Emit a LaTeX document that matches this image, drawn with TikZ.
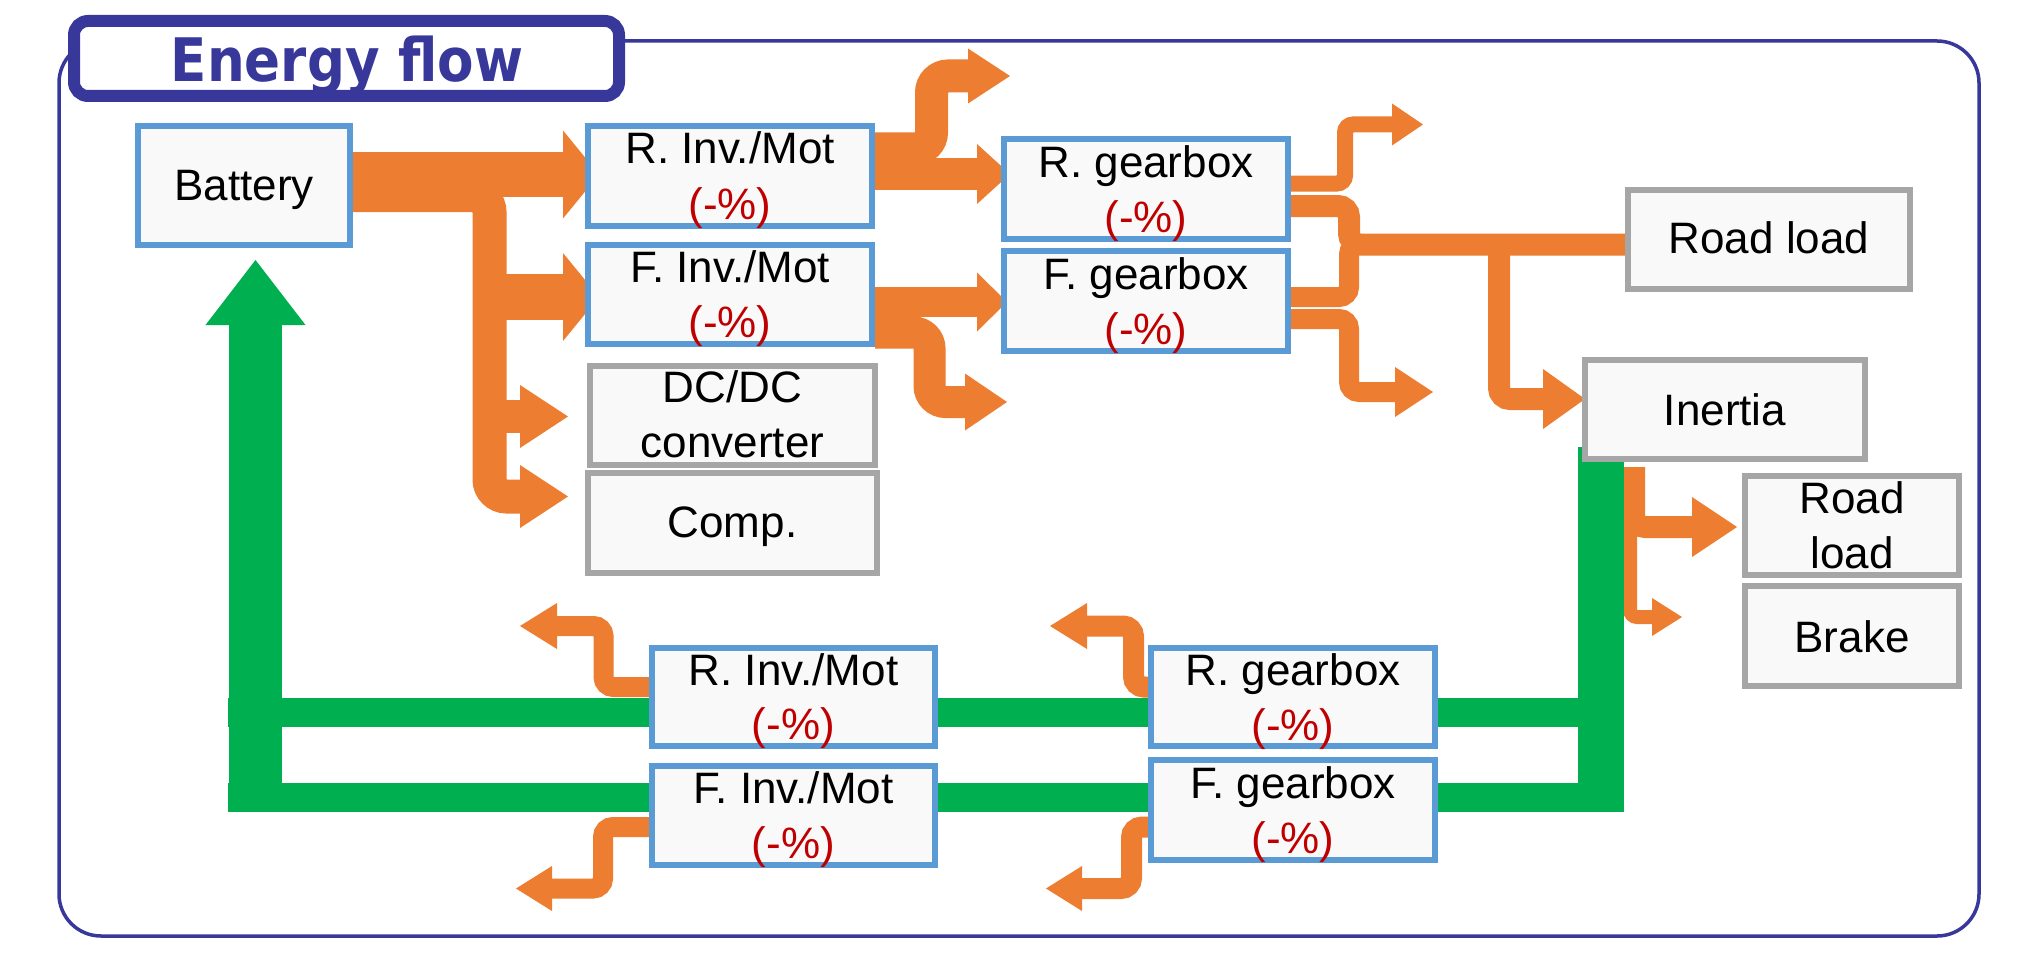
\documentclass[tikz,border=0pt]{standalone}
\usepackage{fontspec}
\setmainfont{Liberation Sans}
\newfontfamily\titlefont{DejaVu Sans}
\usetikzlibrary{arrows.meta,calc}
\pgfdeclarelayer{back}
\pgfdeclarelayer{flows}
\pgfsetlayers{back,flows,main}
\definecolor{orng}{HTML}{ED7D31}
\definecolor{grn}{HTML}{00B050}
\definecolor{bbord}{HTML}{5B9BD5}
\definecolor{gbord}{HTML}{A6A6A6}
\definecolor{boxfill}{HTML}{F9F9F9}
\definecolor{navy}{HTML}{38389A}
\definecolor{pct}{HTML}{C00000}
\begin{document}
\begin{tikzpicture}[x=1pt,y=-1pt,
  box/.style={draw, fill=boxfill, line width=6pt, inner sep=0pt},
  bbox/.style={box, draw=bbord},
  gbox/.style={box, draw=gbord},
  txt/.style={font=\fontsize{44}{53}\selectfont, inner sep=0pt, anchor=base},
  pc/.style={txt, text=pct},
  flow/.style={draw=orng, line width=#1},
  gflow/.style={draw=grn, line width=#1},
  ah/.style 2 args={arrows={-{Triangle[length=#1pt,width=#2pt,line width=0pt]}}},
  titlebox/.style={draw=navy, line width=12pt, fill=white, rounded corners=14pt, inner sep=0pt}
]
\useasboundingbox (0,0) rectangle (2040,979);

% frame
\begin{pgfonlayer}{back}
\draw[navy, line width=3.5pt, rounded corners=42pt] (59,41) rectangle (1979,936);
\end{pgfonlayer}

% boxes
\node[bbox, minimum width=212pt, minimum height=119pt] (bat) at (244,185.5) {};
\node[bbox, minimum width=284pt, minimum height=100pt] (rinv) at (730,176) {};
\node[bbox, minimum width=284pt, minimum height=99pt] (finv) at (730,294.5) {};
\node[gbox, minimum width=285pt, minimum height=99pt] (dcdc) at (732.5,415.5) {};
\node[gbox, minimum width=289pt, minimum height=100pt] (comp) at (732.5,523) {};
\node[bbox, minimum width=284pt, minimum height=100pt] (rgb) at (1146,189) {};
\node[bbox, minimum width=284pt, minimum height=100pt] (fgb) at (1146,301) {};
\node[gbox, minimum width=282pt, minimum height=99pt] (road) at (1769,239.5) {};
\node[gbox, minimum width=280pt, minimum height=99pt] (inertia) at (1725,409.5) {};
\node[gbox, minimum width=214pt, minimum height=99pt] (road2) at (1852,525.5) {};
\node[gbox, minimum width=214pt, minimum height=100pt] (brake) at (1852,636) {};
\node[bbox, minimum width=283pt, minimum height=98pt] (rinv2) at (793.5,697) {};
\node[bbox, minimum width=283pt, minimum height=99pt] (finv2) at (793.5,815.5) {};
\node[bbox, minimum width=284pt, minimum height=98pt] (rgb2) at (1293,697) {};
\node[bbox, minimum width=284pt, minimum height=100pt] (fgb2) at (1293,810) {};

% texts
\node[txt] at ($(bat.center)+(0,14.5)$) {Battery};
\node[txt] at ($(rinv.center)+(0,-12)$) {R. Inv./Mot};
\node[pc]  at ($(rinv.center)+(0,43)$) {(-\%)};
\node[txt] at ($(finv.center)+(0,-12)$) {F. Inv./Mot};
\node[pc]  at ($(finv.center)+(0,43)$) {(-\%)};
\node[txt] at ($(dcdc.center)+(0,-13)$) {DC/DC};
\node[txt] at ($(dcdc.center)+(0,42)$) {converter};
\node[txt] at ($(comp.center)+(0,14.5)$) {Comp.};
\node[txt] at ($(rgb.center)+(0,-12)$) {R. gearbox};
\node[pc]  at ($(rgb.center)+(0,43)$) {(-\%)};
\node[txt] at ($(fgb.center)+(0,-12)$) {F. gearbox};
\node[pc]  at ($(fgb.center)+(0,43)$) {(-\%)};
\node[txt] at ($(road.center)+(0,14)$) {Road load};
\node[txt] at ($(inertia.center)+(0,15.5)$) {Inertia};
\node[txt] at ($(road2.center)+(0,-12.5)$) {Road};
\node[txt] at ($(road2.center)+(0,42.5)$) {load};
\node[txt] at ($(brake.center)+(0,16)$) {Brake};
\node[txt] at ($(rinv2.center)+(0,-12)$) {R. Inv./Mot};
\node[pc]  at ($(rinv2.center)+(0,42.5)$) {(-\%)};
\node[txt] at ($(finv2.center)+(0,-12)$) {F. Inv./Mot};
\node[pc]  at ($(finv2.center)+(0,43)$) {(-\%)};
\node[txt] at ($(rgb2.center)+(0,-12)$) {R. gearbox};
\node[pc]  at ($(rgb2.center)+(0,43)$) {(-\%)};
\node[txt] at ($(fgb2.center)+(0,-12)$) {F. gearbox};
\node[pc]  at ($(fgb2.center)+(0,43)$) {(-\%)};

% title
\node[titlebox, minimum width=545pt, minimum height=75pt] (title) at (346.5,58.5) {};
\node[anchor=base, inner sep=0pt, text=navy, font=\titlefont\bfseries\fontsize{60}{72}\selectfont] (titletext) at ($(title.center)+(0.5,23.5)$) {\scalebox{0.885}[1]{Energy flow}};

\begin{pgfonlayer}{flows}
% battery outputs
\draw[flow=45pt, ah={36}{88}] ($(bat.east)+(0,-11)$) -- ($(rinv.west)+(14,-1.5)$);
\coordinate (t1) at (489.5,195);
\coordinate (t2) at (489.5,496.5);
\draw[flow=34pt, rounded corners=17pt, ah={48}{63}] ($(bat.east)+(0,9.5)$) -- (t1) -- (t2) -- ($(comp.west)+(-17,-26.5)$);
\draw[flow=46pt, ah={36}{88}] (489.5,297) -- ($(finv.west)+(14,2.5)$);
\draw[flow=33pt, ah={48}{63}] (489.5,416.5) -- ($(dcdc.west)+(-19,1)$);
% inverter outputs
\draw[flow=33pt, rounded corners=16.5pt, ah={42}{55}] ($(rinv.east)+(0,-27)$) -- (931.5,149) -- (931.5,76) -- (1010,76);
\draw[flow=32pt, ah={33}{60}] ($(rinv.east)+(0,-2)$) -- ($(rgb.west)+(9,-15)$);
\draw[flow=30pt, ah={30}{59}] ($(finv.east)+(0,7.5)$) -- ($(fgb.west)+(6,1)$);
\draw[flow=32pt, rounded corners=16pt, ah={42}{57}] ($(finv.east)+(0,38)$) -- (929.5,332.5) -- (929.5,402) -- (1007,402);
% gearbox outputs
\draw[flow=16pt, rounded corners=8pt, ah={31}{42}] ($(rgb.east)+(0,-5.5)$) -- (1345,183.5) -- (1345,124.5) -- (1423,124.5);
\coordinate (j1) at (1349,244.5);
\draw[flow=22pt, rounded corners=11pt] ($(rgb.east)+(0,17)$) -- (1349,206) -- (j1) -- ($(road.west)+(0,5)$);
\draw[flow=20pt, rounded corners=10pt] ($(fgb.east)+(0,-4)$) -- (1349,297) -- (j1) -- (1400,244.5);
\draw[flow=20pt, rounded corners=10pt, ah={38}{50}] ($(fgb.east)+(0,18)$) -- (1349,319) -- (1349,392) -- (1433,392);
\draw[flow=22pt, rounded corners=11pt, ah={42}{60}] (1499,244.5) -- (1499,399) -- ($(inertia.west)+(3,-10.5)$);
% inertia outputs
\draw[flow=22pt, rounded corners=11pt, ah={45}{60}] ($(inertia.south west)+(52,5)$) -- (1634,527) -- ($(road2.west)+(-5,1.5)$);
\draw[flow=14pt, rounded corners=7pt, ah={30}{38}] ($(inertia.south west)+(48,5)$) -- (1630,617) -- ($(brake.west)+(-60,-19)$);
% regeneration (green)
\draw[gflow=46pt] ($(inertia.south west)+(19,-15)$) -- (1601,812);
\draw[gflow=29pt] (1601,712.5) -- (228,712.5);
\draw[gflow=29pt] (1624,797.5) -- (228,797.5);
\draw[gflow=53pt, ah={65}{100}] (255.5,812) -- ($(bat.south)+(11.5,12)$);
% losses in regeneration
\draw[flow=20pt, rounded corners=10pt, ah={37}{46}] ($(rinv2.west)+(0,-10)$) -- (603.5,687) -- (603.5,626) -- (520,626);
\draw[flow=20pt, rounded corners=10pt, ah={36}{45}] ($(finv2.west)+(0,11.5)$) -- (603,827) -- (603,888.5) -- (516,888.5);
\draw[flow=21pt, rounded corners=10.5pt, ah={37}{46}] ($(rgb2.west)+(0,-10)$) -- (1133.5,687) -- (1133.5,626) -- (1050,626);
\draw[flow=21pt, rounded corners=10.5pt, ah={36}{45}] ($(fgb2.west)+(0,17)$) -- (1131.5,827) -- (1131.5,888.5) -- (1046,888.5);
\end{pgfonlayer}
\end{tikzpicture}
\end{document}
